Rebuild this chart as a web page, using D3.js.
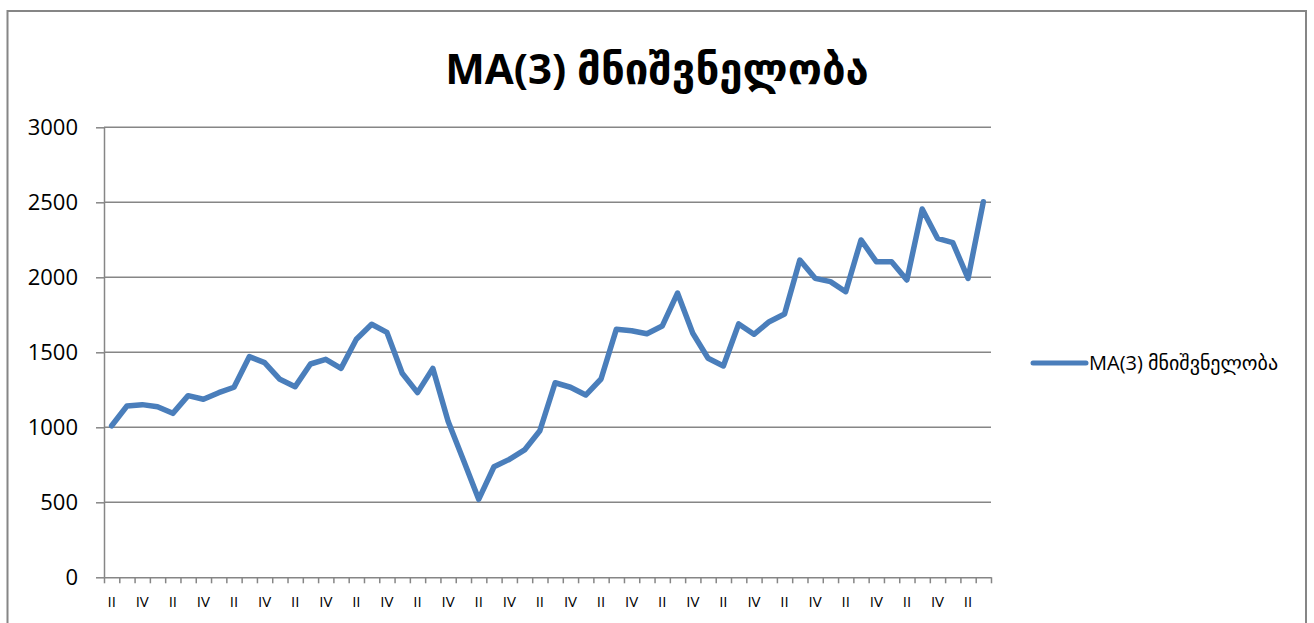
<!DOCTYPE html>
<html>
<head>
  <meta charset="utf-8">
  <style type="text/css">
    body { margin: 0; background: #fff; }
    svg { display: block; }
    text { font-family: "Open Sans", "DejaVu Sans", sans-serif; fill: #000; }
    .grid line { stroke: #868686; stroke-width: 1.5px; }
    .axis path, .axis line { stroke: #868686; stroke-width: 1.5px; }
  </style>
</head>
<body>
<svg></svg>
<script src="https://d3js.org/d3.v7.min.js"></script>
<script>
    var width = 1314;
    var height = 623;

    var title = 'MA(3) მნიშვნელობა';
    var seriesName = 'MA(3) მნიშვნელობა';

    // quarters, the series starts at quarter II
    var quarters = [
      'II','III','IV','I','II','III','IV','I','II','III','IV','I','II','III','IV','I',
      'II','III','IV','I','II','III','IV','I','II','III','IV','I','II','III','IV','I',
      'II','III','IV','I','II','III','IV','I','II','III','IV','I','II','III','IV','I',
      'II','III','IV','I','II','III','IV','I','II','III'
    ];
    var ma3 = [
      1010, 1142, 1151, 1137, 1093, 1211, 1187, 1231, 1267, 1471,
      1431, 1320, 1271, 1422, 1453, 1393, 1587, 1687, 1633, 1360,
      1231, 1393, 1040, 782, 520, 737, 786, 849, 977, 1297,
      1267, 1215, 1322, 1653, 1644, 1624, 1675, 1895, 1627, 1460,
      1409, 1689, 1620, 1704, 1755, 2115, 1993, 1971, 1904, 2249,
      2104, 2104, 1982, 2455, 2260, 2231, 1993, 2504
    ];
    var yTicks = [0, 500, 1000, 1500, 2000, 2500, 3000];

    var svg = d3.select('svg')
      .attr('width', width)
      .attr('height', height);

    // chart frame
    svg.append('rect')
      .attr('x', 7.5).attr('y', 11)
      .attr('width', 1298.5).attr('height', 640)
      .attr('fill', 'none')
      .attr('stroke', '#868686')
      .attr('stroke-width', 2);

    var plot = { left: 104, right: 991, top: 127.3, bottom: 577.3 };

    var idx = d3.range(ma3.length);
    var x = d3.scaleBand().domain(idx).range([plot.left, plot.right]);
    var xEdge = d3.scaleLinear().domain([0, ma3.length]).range([plot.left, plot.right]);
    var y = d3.scaleLinear().domain([0, 3000]).range([plot.bottom, plot.top]);

    // horizontal gridlines
    svg.append('g')
      .attr('class', 'grid')
      .selectAll('line')
      .data(yTicks.filter(function(d) { return d > 0; }))
      .enter()
      .append('line')
      .attr('x1', plot.left).attr('x2', plot.right)
      .attr('y1', function(d) { return y(d); })
      .attr('y2', function(d) { return y(d); });

    // y axis
    var yAxis = svg.append('g')
      .attr('class', 'axis')
      .attr('transform', 'translate(' + plot.left + ',0)')
      .call(d3.axisLeft(y).tickValues(yTicks).tickFormat(d3.format('d'))
        .tickSize(8).tickSizeOuter(0).tickPadding(18));
    yAxis.selectAll('text').style('font-size', '22px').attr('fill', '#000');

    // x axis tick marks at category boundaries
    svg.append('g')
      .attr('class', 'axis')
      .attr('transform', 'translate(0,' + plot.bottom + ')')
      .call(d3.axisBottom(xEdge).tickValues(d3.range(ma3.length + 1)).tickSize(6).tickSizeOuter(0).tickFormat(''));

    // x axis labels, every second category
    var xLabels = svg.append('g')
      .attr('transform', 'translate(0,' + plot.bottom + ')')
      .call(d3.axisBottom(x)
        .tickValues(idx.filter(function(i) { return i % 2 === 0; }))
        .tickFormat(function(i) { return quarters[i]; })
        .tickSize(0).tickPadding(19));
    xLabels.select('.domain').remove();
    xLabels.selectAll('text').style('font-size', '15px').attr('fill', '#000');

    // series line
    var line = d3.line()
      .x(function(d, i) { return x(i) + x.bandwidth() / 2; })
      .y(function(d) { return y(d); });

    svg.append('path')
      .datum(ma3)
      .attr('d', line)
      .attr('fill', 'none')
      .attr('stroke', '#4a7ebb')
      .attr('stroke-width', 5.5)
      .attr('stroke-linejoin', 'round')
      .attr('stroke-linecap', 'round');

    // title
    svg.append('text')
      .attr('x', 657).attr('y', 84)
      .attr('text-anchor', 'middle')
      .style('font-size', '42px')
      .style('font-weight', 'bold')
      .text(title);

    // legend
    svg.append('line')
      .attr('x1', 1033).attr('x2', 1086)
      .attr('y1', 363).attr('y2', 363)
      .attr('stroke', '#4a7ebb')
      .attr('stroke-width', 5)
      .attr('stroke-linecap', 'round');
    svg.append('text')
      .attr('x', 1089).attr('y', 370)
      .style('font-size', '20px')
      .text(seriesName);
</script>
</body>
</html>
